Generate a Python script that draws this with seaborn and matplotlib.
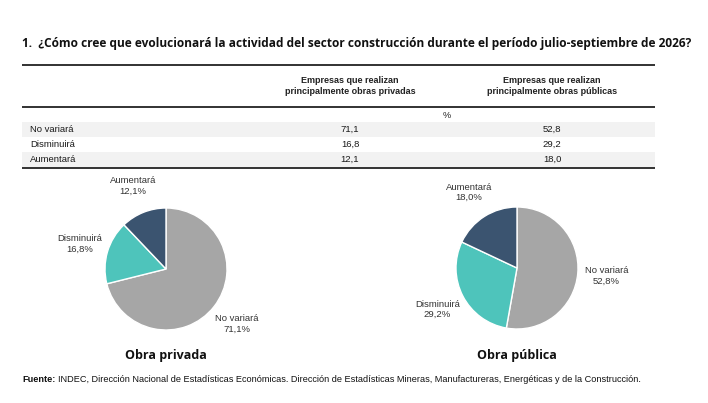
import matplotlib
matplotlib.use("Agg")
import matplotlib.pyplot as plt
import seaborn as sns

# data
categorias = ["No variará", "Disminuirá", "Aumentará"]
obras_privadas = [71.1, 16.8, 12.1]
obras_publicas = [52.8, 29.2, 18.0]
encabezados = ["Empresas que realizan\nprincipalmente obras privadas",
               "Empresas que realizan\nprincipalmente obras públicas"]
titulos_pie = ["Obra privada", "Obra pública"]
titulo = "1.  ¿Cómo cree que evolucionará la actividad del sector construcción durante el período julio-septiembre de 2026?"
fuente = "INDEC, Dirección Nacional de Estadísticas Económicas. Dirección de Estadísticas Mineras, Manufactureras, Energéticas y de la Construcción."

sns.set_theme(style="white")
colores = sns.color_palette(["#A6A6A6", "#4EC4BB", "#3B5470"])
plain = ["Liberation Sans", "DejaVu Sans"]
bold_font = ["Open Sans", "DejaVu Sans"]

def fmt(v):
    return f"{v:.1f}".replace(".", ",")

W, H = 708, 403
fig = plt.figure(figsize=(W / 100, H / 100), dpi=100)

# overlay axes in pixel coordinates for title / table / footer
ov = fig.add_axes([0, 0, 1, 1])
ov.set_xlim(0, W)
ov.set_ylim(H, 0)
ov.axis("off")

ov.text(22, 44, titulo, fontsize=8.6, fontweight="bold", family=bold_font,
        color="#111111", va="center", ha="left")

# table
x0, x1 = 22, 655
col_x = [350, 552]
for yl in (65, 107, 168):
    ov.plot([x0, x1], [yl, yl], color="#222222", lw=1.3, solid_capstyle="butt")
for cx, h in zip(col_x, encabezados):
    ov.text(cx, 86, h, fontsize=6.5, fontweight="bold", family=plain,
            ha="center", va="center", linespacing=1.35, color="#222222")
ov.text(447, 115, "%", fontsize=6.6, family=plain, ha="center", va="center", color="#222222")

row_top = 122
row_h = 15
for i, cat in enumerate(categorias):
    yc = row_top + row_h * (i + 0.5)
    if i % 2 == 0:
        ov.axhspan(row_top + row_h * i, row_top + row_h * (i + 1),
                   xmin=x0 / W, xmax=x1 / W, color="#F2F2F2", lw=0, zorder=0)
    ov.text(30, yc, cat, fontsize=6.8, family=plain, ha="left", va="center", color="#1a1a1a")
    ov.text(col_x[0], yc, fmt(obras_privadas[i]), fontsize=6.8, family=plain,
            ha="center", va="center", color="#1a1a1a")
    ov.text(col_x[1], yc, fmt(obras_publicas[i]), fontsize=6.8, family=plain,
            ha="center", va="center", color="#1a1a1a")

# footer
f1 = ov.text(22, 380, "Fuente:", fontsize=6.6, fontweight="bold", family=plain,
             ha="left", va="center", color="#111111")
fig.canvas.draw()
bb = f1.get_window_extent()
ov.text(bb.x1 + 3, 380, fuente, fontsize=6.6, family=plain, ha="left", va="center", color="#111111")

# pies
R = 61
centros = [(166, 269), (517, 268)]
for (cx, cy), vals, tit in zip(centros, [obras_privadas, obras_publicas], titulos_pie):
    side = 4 * R
    ax = fig.add_axes([(cx - side / 2) / W, (H - cy - side / 2) / H, side / W, side / H])
    etiquetas = [f"{c}\n{fmt(v)}%" for c, v in zip(categorias, vals)]
    wedges, texts = ax.pie(vals, labels=etiquetas, colors=colores, startangle=90,
                           counterclock=False, labeldistance=1.47,
                           textprops={"fontsize": 6.8, "family": plain, "color": "#333333"})
    for t in texts:
        t.set_ha("center")
        t.set_multialignment("center")
    ax.set_xlim(-2, 2)
    ax.set_ylim(-2, 2)
    ax.set_aspect("equal")
    ax.axis("off")
    ov.text(cx, 355, tit, fontsize=9, fontweight="bold", family=bold_font,
            ha="center", va="center", color="#111111")

fig.savefig("out.png", dpi=100)
